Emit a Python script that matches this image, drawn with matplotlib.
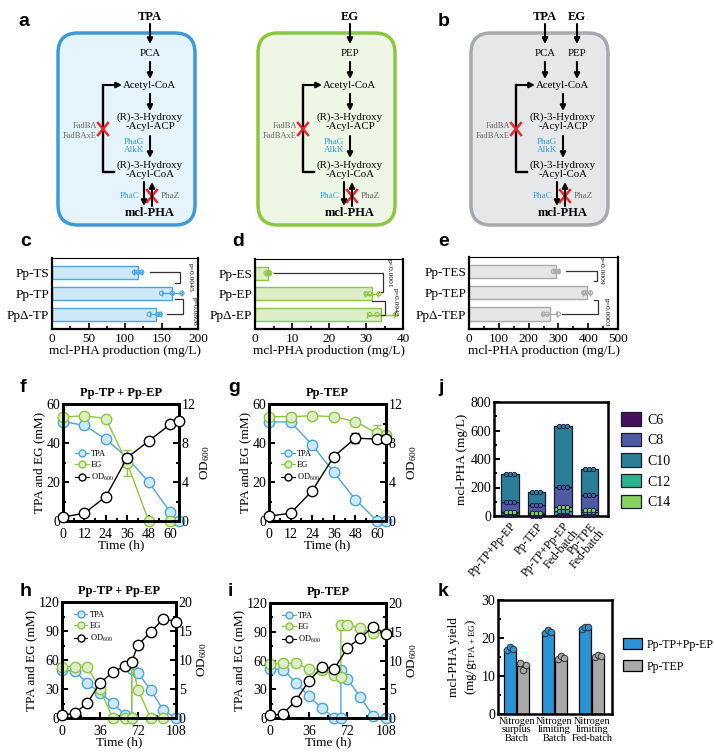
import matplotlib.pyplot as plt
from matplotlib.patches import FancyBboxPatch, Patch
from matplotlib.lines import Line2D
import numpy as np

plt.rcParams['font.family'] = ['Liberation Serif', 'DejaVu Serif']
plt.rcParams['mathtext.default'] = 'regular'

W, H = 714, 756

# ---------------- DATA ----------------
# c, d, e : mcl-PHA production replicates (mg/L)
c_labels = ['Pp-TS', 'Pp-TP', 'PpΔ-TP']
c_reps = [[113, 118, 123], [150, 165, 178], [133, 145, 148]]
c_pvals = ['p=0.0045', 'p=0.0806']

d_labels = ['Pp-ES', 'Pp-EP', 'PpΔ-EP']
d_reps = [[3.0, 3.5, 4.0], [30.0, 31.0, 33.5], [31.0, 33.0, 38.0]]
d_pvals = ['p<0.0001', 'p=0.0942']

e_labels = ['Pp-TES', 'Pp-TEP', 'PpΔ-TEP']
e_reps = [[283, 293, 300], [385, 390, 408], [250, 262, 300]]
e_pvals = ['p=0.0009', 'p=0.0003']

# f, g : batch time courses (TPA, EG in mM, OD600)
f_time = [0, 12, 24, 36, 48, 60, 65]
f_tpa = [51, 49, 42, 32.5, 20, 4.6, 0]
f_eg_time = [0, 12, 24, 36, 48, 60]
f_eg = [53.3, 54, 52.5, 29.7, 0, 0]
f_eg_err = [0, 0, 0, 6.5, 0, 0]
f_od = [0.4, 0.8, 2.5, 6.5, 8.2, 9.9, 10.3]

g_time = [0, 12, 24, 36, 48, 60, 65]
g_tpa = [50.8, 50.8, 39, 25, 11, 0, 0]
g_eg = [53.5, 53.5, 54, 53.5, 51, 45, 44]
g_eg_err = [0, 0, 0, 0, 0, 4, 2]
g_od = [0.5, 0.8, 3.1, 6.6, 8.5, 8.4, 8.4]
g_od_err = [0, 0, 0, 0, 0.5, 0, 0]

# h, i : fed-batch time courses
h_time = [0, 12, 24, 36, 48, 60, 66, 66, 72, 84, 96, 108]
h_tpa = [49.6, 48.6, 36, 26, 15.5, 3, 0, 51, 46.5, 29, 8, 0]
h_eg_time = [0, 12, 24, 36, 48, 60, 66, 66, 72, 84, 96]
h_eg = [53, 53, 53, 30, 0, 0, 0, 58, 29, 0, 0]
h_od_time = [0, 12, 24, 36, 48, 60, 66, 72, 84, 96, 108]
h_od = [0.5, 0.8, 2.6, 6.0, 7.9, 9.0, 9.7, 12.6, 14.8, 17.1, 16.6]

i_time = [0, 12, 24, 36, 48, 60, 66, 66, 72, 84, 96, 108]
i_tpa = [51.5, 50.4, 37, 23, 10.4, 0, 0, 50.4, 41, 21.6, 2.4, 0]
i_eg = [56, 57, 57, 51.5, 50.4, 44.5, 42.8, 97, 96.7, 94, 88.7, 88.7]
i_od_time = [0, 12, 24, 36, 48, 60, 72, 84, 96, 108]
i_od = [0.46, 0.7, 3.0, 6.4, 8.8, 8.6, 12.2, 13.9, 15.9, 14.6]

# j : monomer composition (mg/L)
j_labels = ['Pp-TP+Pp-EP', 'Pp-TEP', 'Pp-TP+Pp-EP\nFed-batch', 'Pp-TPE\nFed-batch']
j_monomers = ['C6', 'C12', 'C14', 'C8', 'C10']   # stacking order, bottom -> top
j_c6 = [4, 3, 5, 4]
j_c12 = [15, 10, 30, 22]
j_c14 = [12, 7, 27, 14]
j_c8 = [70, 55, 143, 110]
j_c10 = [194, 90, 430, 180]
j_legend = ['C6', 'C8', 'C10', 'C12', 'C14']

# k : yield (mg/g TPA+EG)
k_groups = ['Nitrogen\nsurplus\nBatch', 'Nitrogen\nlimiting\nBatch', 'Nitrogen\nlimiting\nFed-batch']
k_series = ['Pp-TP+Pp-EP', 'Pp-TEP']
k_mix = [[16.8, 17.6, 17.0], [21.2, 22.0, 21.5], [22.4, 23.0, 22.8]]
k_tep = [[13.5, 11.5, 13.0], [14.4, 15.2, 14.8], [15.0, 15.6, 15.3]]

# colours
BLUE_F, BLUE_E = '#cfe8f7', '#4aa6dc'
GREEN_F, GREEN_E = '#dcedc8', '#8cc63f'
GRAY_F, GRAY_E = '#e6e6e6', '#a9a9a9'
MONO_COL = {'C6': '#4a0f5c', 'C8': '#4f5aa3', 'C10': '#2a7f96', 'C12': '#2bb38c', 'C14': '#86d160'}

fig = plt.figure(figsize=(W / 100, H / 100), dpi=100)


def px_axes(l, t, r, b):
    return fig.add_axes([l / W, 1 - b / H, (r - l) / W, (b - t) / H])


def letter(x, y, s):
    fig.text(x / W, 1 - y / H, s, fontfamily='Liberation Sans', fontweight='bold',
             fontsize=14, va='center', ha='left')


# ---------------- PATHWAY DIAGRAMS (a, b) ----------------
bg = fig.add_axes([0, 0, 1, 1])
bg.set_xlim(0, W)
bg.set_ylim(H, 0)
bg.axis('off')


def arrow(x1, y1, x2, y2):
    bg.annotate('', xy=(x2, y2), xytext=(x1, y1),
                arrowprops=dict(arrowstyle='-|>', color='k', lw=1.5, shrinkA=0, shrinkB=0,
                                mutation_scale=8))


def red_x(x, y):
    bg.plot([x - 5, x + 5], [y - 6, y + 6], color='#e8262b', lw=1.8)
    bg.plot([x - 5, x + 5], [y + 6, y - 6], color='#e8262b', lw=1.8)


def cell(x0, face, edge, sources):
    bg.add_patch(FancyBboxPatch((x0, 33), 137, 192, boxstyle='round,pad=0,rounding_size=20',
                                fc=face, ec=edge, lw=2.5))
    cx = x0 + 92
    for sx, top, mid in sources:
        bg.text(sx, 17, top, fontweight='bold', ha='center', va='center', fontsize=9)
        arrow(sx, 24, sx, 44)
        bg.text(sx, 53, mid, ha='center', va='center', fontsize=7.8)
        arrow(sx, 62, sx, 79)
    bg.text(cx, 85, 'Acetyl-CoA', ha='center', va='center', fontsize=7.8)
    arrow(cx, 94, cx, 111)
    bg.text(cx, 122, '(R)-3-Hydroxy\n-Acyl-ACP', ha='center', va='center', fontsize=7.8,
            linespacing=0.95)
    arrow(cx, 136, cx, 158)
    bg.text(cx - 6, 146, 'PhaG\nAlkK', ha='right', va='center', fontsize=6.6, color='#2f9bd6',
            linespacing=1.1)
    bg.text(cx, 170, '(R)-3-Hydroxy\n-Acyl-CoA', ha='center', va='center', fontsize=7.8,
            linespacing=0.95)
    arrow(cx - 6, 182, cx - 6, 206)
    arrow(cx + 2, 206, cx + 2, 182)
    red_x(cx + 2, 196)
    bg.text(cx - 10, 196, 'PhaC', ha='right', va='center', fontsize=6.6, color='#2f9bd6')
    bg.text(cx + 11, 196, 'PhaZ', ha='left', va='center', fontsize=6.6, color='#666666')
    bg.text(cx, 213, 'mcl-PHA', ha='center', va='center', fontsize=9, fontweight='bold')
    # beta-oxidation loop
    lx = x0 + 45
    bg.plot([cx - 36, lx, lx], [172, 172, 85], color='k', lw=1.7)
    arrow(lx, 85, cx - 28, 85)
    red_x(lx, 129)
    bg.text(lx - 6, 131, 'FadBA\nFadBAxE', ha='right', va='center', fontsize=6.1, color='#666666',
            linespacing=1.2)


cell(58, '#e4f3fc', '#3d9ad6', [(150, 'TPA', 'PCA')])
cell(258, '#eef6e6', '#8cc63f', [(350, 'EG', 'PEP')])
cell(471, '#e6e7e8', '#a7a9ac', [(545, 'TPA', 'PCA'), (577, 'EG', 'PEP')])
letter(18, 22, 'a')
letter(438, 22, 'b')


# ---------------- BAR PANELS (c, d, e) ----------------
def hbar_panel(ax, labels, reps, face, edge, xmax, step, brackets, pvals, ptext):
    means = [np.mean(r) for r in reps]
    sds = [np.std(r, ddof=1) for r in reps]
    y = np.arange(len(labels))
    ax.barh(y, means, height=0.62, color=face, edgecolor=edge, lw=1)
    ax.errorbar(means, y, xerr=sds, fmt='none', ecolor=edge, elinewidth=1, capsize=2, capthick=1)
    for i, r in enumerate(reps):
        ax.scatter(r, [i] * len(r), s=9, facecolor='none', edgecolor=edge, lw=0.8, zorder=3)
    for xs, ys in brackets:
        ax.plot(xs, ys, color='#333333', lw=0.9)
    for (px, py), s in zip(ptext, pvals):
        ax.text(px, py, s, rotation=-90, fontsize=5.4, ha='center', va='center')
    ax.set_yticks(y)
    ax.set_yticklabels(labels, fontsize=9.5)
    ax.set_ylim(2.7, -0.68)
    ax.set_xlim(0, xmax)
    ax.set_xticks(np.arange(0, xmax + 1, step))
    ax.set_xticks(np.arange(0, xmax + 1, step / 2), minor=True)
    ax.tick_params(axis='y', length=0, pad=2)
    ax.tick_params(axis='x', which='both', direction='in', labelsize=9.5, width=1.2, pad=3)
    ax.tick_params(axis='x', which='major', length=4)
    ax.tick_params(axis='x', which='minor', length=2.5)
    ax.set_xlabel('mcl-PHA production (mg/L)', fontsize=9.5, labelpad=0)
    for s in ['left', 'bottom', 'right']:
        ax.spines[s].set_linewidth(1.6)
    ax.spines['top'].set_linewidth(0.8)


ax_c = px_axes(52, 258, 198, 329)
hbar_panel(ax_c, c_labels, c_reps, BLUE_F, BLUE_E, 200, 50,
           [([134, 175, 175, 168], [0, 0, 0.5, 0.5]), ([168, 179, 179, 157], [1.25, 1.25, 2, 2])],
           c_pvals, [(189, 0.22), (195, 1.84)])
letter(20, 242, 'c')

ax_d = px_axes(255, 259, 403, 329)
hbar_panel(ax_d, d_labels, d_reps, GREEN_F, GREEN_E, 40, 10,
           [([5, 34.5, 34.5, 33.5], [0, 0, 0.9, 0.9]), ([31.5, 35, 35, 34], [1.35, 1.35, 2, 2])],
           d_pvals, [(36.2, 0.03), (38, 1.4)])
letter(232, 242, 'd')

ax_e = px_axes(469, 257, 618, 329)
hbar_panel(ax_e, e_labels, e_reps, GRAY_F, GRAY_E, 500, 100,
           [([325, 430, 430, 420], [0, 0, 0.45, 0.45]), ([420, 432, 432, 311], [1.35, 1.35, 2, 2])],
           e_pvals, [(446, -0.05), (462, 1.9)])
letter(438, 242, 'e')


# ---------------- TIME COURSES (f, g, h, i) ----------------
def time_panel(ax, title, t, tpa, t_eg, eg, eg_err, t_od, od, od_err,
               xmax, xstep, ymax, y2max, legend_box):
    ax2 = ax.twinx()
    kw = dict(ms=7.5, lw=1, clip_on=False, mew=1)
    ax.plot(t, tpa, '-o', color=BLUE_E, mfc=BLUE_F, mec=BLUE_E, zorder=3, **kw)
    ax.plot(t_eg, eg, '-o', color=GREEN_E, mfc=GREEN_F, mec=GREEN_E, zorder=3, **kw)
    if eg_err is not None:
        ax.errorbar(t_eg, eg, yerr=eg_err, fmt='none', ecolor=GREEN_E, elinewidth=1, capsize=3)
    ax2.plot(t_od, od, '-o', color='k', mfc='white', mec='k', zorder=3, **kw)
    if od_err is not None:
        ax2.errorbar(t_od, od, yerr=od_err, fmt='none', ecolor='k', elinewidth=1, capsize=3)
    ax.set_xlim(0, xmax)
    ax.set_ylim(0, ymax)
    ax2.set_ylim(0, y2max)
    ax.set_xticks(np.arange(0, xmax + 1, xstep))
    ax.set_xticks(np.arange(0, xmax + 1, xstep / 2), minor=True)
    ax.set_yticks(np.linspace(0, ymax, 4 if ymax == 60 else 5))
    ax.set_yticks(np.linspace(0, ymax, 7 if ymax == 60 else 9), minor=True)
    ax2.set_yticks(np.linspace(0, y2max, 4 if y2max == 12 else 5))
    ax2.set_yticks(np.linspace(0, y2max, 7 if y2max == 12 else 9), minor=True)
    for a in (ax, ax2):
        a.tick_params(which='both', direction='in', labelsize=10, width=1.4, pad=2)
        a.tick_params(which='major', length=4)
        a.tick_params(which='minor', length=2.5)
        for s in a.spines.values():
            s.set_linewidth(2)
    ax.tick_params(axis='x', pad=5)
    ax.set_xlabel('Time (h)', fontsize=9.5, labelpad=-1)
    ax.set_ylabel('TPA and EG (mM)', fontsize=9.5, labelpad=1)
    ax2.set_ylabel('OD$_{600}$', fontsize=9.5, labelpad=2)
    ax.set_title(title, fontsize=9, fontweight='bold', pad=6)
    handles = [Line2D([], [], color=BLUE_E, marker='o', mfc=BLUE_F, mec=BLUE_E, ms=5, lw=0.8),
               Line2D([], [], color=GREEN_E, marker='o', mfc=GREEN_F, mec=GREEN_E, ms=5, lw=0.8),
               Line2D([], [], color='k', marker='o', mfc='white', mec='k', ms=5, lw=0.8)]
    ax2.legend(handles, ['TPA', 'EG', 'OD$_{600}$'], loc='upper left', bbox_to_anchor=legend_box,
               frameon=False, fontsize=6, handlelength=1.6, handletextpad=0.3,
               labelspacing=0.35, borderpad=0)


ax_f = px_axes(63, 404, 179, 521)
time_panel(ax_f, 'Pp-TP + Pp-EP', f_time, f_tpa, f_eg_time, f_eg, f_eg_err, f_time, f_od, None,
           65, 12, 60, 12, (0.07, 0.64))
letter(20, 388, 'f')

ax_g = px_axes(269, 404, 386, 521)
time_panel(ax_g, 'Pp-TEP', g_time, g_tpa, g_time, g_eg, g_eg_err, g_time, g_od, g_od_err,
           65, 12, 60, 12, (0.07, 0.64))
letter(228, 388, 'g')

ax_h = px_axes(62, 602, 176, 718)
time_panel(ax_h, 'Pp-TP + Pp-EP', h_time, h_tpa, h_eg_time, h_eg, None, h_od_time, h_od, None,
           108, 36, 120, 20, (0.07, 0.96))
letter(20, 592, 'h')

ax_i = px_axes(270, 603, 386, 718)
time_panel(ax_i, 'Pp-TEP', i_time, i_tpa, i_time, i_eg, None, i_od_time, i_od, None,
           108, 36, 120, 20, (0.07, 0.96))
letter(228, 592, 'i')


# ---------------- STACKED BARS (j) ----------------
ax_j = px_axes(494, 402, 608, 516)
mono_vals = {'C6': j_c6, 'C12': j_c12, 'C14': j_c14, 'C8': j_c8, 'C10': j_c10}
xj = np.arange(len(j_labels))
bottom = np.zeros(len(j_labels))
for m in j_monomers:
    vals = np.array(mono_vals[m])
    ax_j.bar(xj, vals, bottom=bottom, width=0.66, color=MONO_COL[m], edgecolor='#1a1a2e', lw=0.9)
    top = bottom + vals
    for dx in (-0.15, 0, 0.15):
        ax_j.scatter(xj + dx, top, s=10, color=MONO_COL[m], edgecolor='#111133', lw=0.6,
                     zorder=3, clip_on=False)
    bottom = top
ax_j.set_xlim(-0.6, 3.7)
ax_j.set_ylim(0, 800)
ax_j.set_yticks(np.arange(0, 801, 200))
ax_j.set_yticks(np.arange(0, 801, 100), minor=True)
ax_j.set_xticks(xj)
ax_j.set_xticklabels(j_labels, rotation=50, ha='right', rotation_mode='anchor', fontsize=8.5,
                     linespacing=0.9)
ax_j.tick_params(axis='x', length=0, pad=3)
ax_j.tick_params(axis='y', which='both', direction='in', labelsize=10, width=1.4, pad=2)
ax_j.tick_params(axis='y', which='major', length=4)
ax_j.tick_params(axis='y', which='minor', length=2.5)
for s in ax_j.spines.values():
    s.set_linewidth(1.8)
ax_j.set_ylabel('mcl-PHA (mg/L)', fontsize=9.5, labelpad=2)
ax_j.legend([Patch(fc=MONO_COL[m], ec='#1a1a2e', lw=0.9) for m in j_legend], j_legend,
            loc='upper left', bbox_to_anchor=(1.0, 1.02), frameon=False, fontsize=10,
            handlelength=1.5, handleheight=1.1, labelspacing=0.45, handletextpad=0.4)
letter(438, 388, 'j')


# ---------------- YIELD BARS (k) ----------------
ax_k = px_axes(498, 600, 612, 714)
xk = np.arange(len(k_groups))
for reps, dx, col in [(k_mix, -0.17, '#2b94d4'), (k_tep, 0.17, '#a9a9a9')]:
    means = [np.mean(r) for r in reps]
    ax_k.bar(xk + dx, means, width=0.32, color=col, edgecolor='k', lw=0.9)
    for i, r in enumerate(reps):
        ax_k.scatter(np.full(3, xk[i] + dx) + np.array([-0.08, 0.0, 0.08]), r, s=22, color=col,
                     edgecolor='#333333', lw=0.7, zorder=3)
ax_k.set_xlim(-0.5, 2.54)
ax_k.set_ylim(0, 30)
ax_k.set_yticks([0, 10, 20, 30])
ax_k.set_yticks(np.arange(0, 31, 5), minor=True)
ax_k.set_xticks(xk)
ax_k.set_xticklabels(k_groups, fontsize=7.4, linespacing=0.95)
ax_k.tick_params(axis='x', length=0, pad=2)
ax_k.tick_params(axis='y', which='both', direction='in', labelsize=10, width=1.4, pad=2)
ax_k.tick_params(axis='y', which='major', length=4)
ax_k.tick_params(axis='y', which='minor', length=2.5)
for s in ax_k.spines.values():
    s.set_linewidth(1.8)
ax_k.set_ylabel('mcl-PHA yield\n(mg/g$_{TPA+EG}$)', fontsize=9.5, labelpad=2)
ax_k.legend([Patch(fc='#2b94d4', ec='k', lw=0.9), Patch(fc='#a9a9a9', ec='k', lw=0.9)], k_series,
            loc='upper left', bbox_to_anchor=(1.0, 0.76), frameon=False, fontsize=8.5,
            handlelength=1.6, handleheight=1.1, labelspacing=0.8, handletextpad=0.4)
letter(438, 592, 'k')

fig.savefig('out.png', dpi=100)
